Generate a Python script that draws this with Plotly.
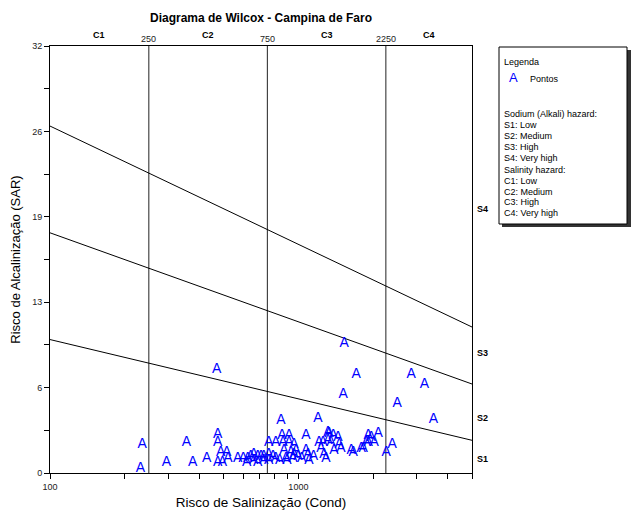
import math
import plotly.graph_objects as go

# ---------------- data ----------------
ec = [231, 235, 294, 354, 375, 427, 473, 473, 486, 514, 473, 495, 469, 570, 619,
      643, 661, 686, 706, 725, 760, 760, 760, 789, 811, 811, 850, 858, 866, 874,
      890, 915, 915, 933, 950, 977, 995, 959, 959, 1072, 1072, 1092, 1102, 1199,
      1210, 1233, 1256, 1268, 1316, 1316, 1353, 1379, 1391, 1444, 1458, 1485,
      1630, 1661, 1788, 1874, 1909, 2095, 1963, 2019, 1909, 1822, 2386, 2257,
      1527, 1707, 1513, 2848, 3214, 2500, 3494, 1328, 625, 661, 686, 725, 520,
      900, 1030, 1150, 1290, 600, 840]
sar = [0.37, 2.17, 0.82, 2.25, 0.82, 1.12, 2.92, 2.25, 1.57, 1.57, 0.82, 0.82, 7.78,
       1.12, 0.75, 1.20, 1.35, 1.20, 1.20, 1.20, 2.32, 1.35, 0.97, 1.20, 2.25, 1.12,
       3.97, 2.84, 2.32, 1.72, 1.12, 2.84, 2.25, 1.50, 1.12, 1.72, 1.20, 2.10, 1.35,
       2.84, 1.72, 1.35, 0.97, 4.12, 2.25, 1.87, 2.32, 1.35, 3.07, 2.47, 2.25, 2.84,
       1.72, 2.69, 2.10, 1.87, 1.72, 1.50, 1.87, 2.32, 2.84, 2.99, 2.69, 2.25, 2.25,
       1.87, 2.10, 1.50, 9.73, 7.41, 5.91, 7.41, 6.66, 5.24, 4.04, 2.99, 1.05, 0.97,
       0.82, 0.97, 1.05, 0.97, 1.05, 1.20, 1.05, 1.05, 0.90]

c_bounds = [250, 750, 2250]
c_labels = ["C1", "C2", "C3", "C4"]
c_label_ec = [158, 433, 1299, 3354]

s_line_ec = [100, 5000]
s_line_s1s2 = [10.0, 2.45]
s_line_s2s3 = [18.0, 6.67]
s_line_s3s4 = [26.0, 10.94]
s_labels = ["S1", "S2", "S3", "S4"]
s_label_sar = [1.05, 4.1, 9.0, 19.8]

x_tickvals = [100, 200, 300, 400, 500, 600, 700, 800, 900, 1000,
              2000, 3000, 4000, 5000]
x_ticktext = ["100", "", "", "", "", "", "", "", "", "1000", "", "", "", ""]
y_tickvals = [0, 3.2, 6.4, 9.6, 12.8, 16, 19.2, 22.4, 25.6, 28.8, 32]
y_ticktext = ["0", "", "6", "", "13", "", "19", "", "26", "", "32"]

legend_title = "Legenda"
legend_series = "Pontos"
legend_s_lines = ["Sodium (Alkali) hazard:", "S1: Low", "S2: Medium", "S3: High", "S4: Very high"]
legend_c_lines = ["Salinity hazard:", "C1: Low", "C2: Medium", "C3: High", "C4: Very high"]

FONT = "Liberation Sans, Arial, sans-serif"

# plot area in pixels (for layout placement helpers)
L, R, T, B = 50, 472, 46, 473
W, H = 638, 510


def px_x(px):
    return (px - L) / (R - L)


def px_y(py):
    return (B - py) / (B - T)


fig = go.Figure()

# vertical salinity boundaries
for cb in c_bounds:
    fig.add_trace(go.Scatter(x=[cb, cb], y=[0, 32], mode="lines",
                             line=dict(color="#222", width=1), hoverinfo="skip"))

# sodium boundaries
for ys in (s_line_s1s2, s_line_s2s3, s_line_s3s4):
    fig.add_trace(go.Scatter(x=s_line_ec, y=ys, mode="lines",
                             line=dict(color="black", width=1), hoverinfo="skip"))

# points
fig.add_trace(go.Scatter(x=ec, y=sar, mode="text", text=["A"] * len(ec),
                         textposition="middle center",
                         textfont=dict(family=FONT, size=14, color="#0000FF"),
                         name=legend_series, cliponaxis=False))

annotations = []
# top labels
for lab, v in zip(c_labels, c_label_ec):
    annotations.append(dict(x=math.log10(v), y=1, xref="x", yref="paper",
                            text=f"<b>{lab}</b>", showarrow=False, yanchor="bottom",
                            yshift=4, font=dict(family=FONT, size=9, color="black")))
for cb in c_bounds:
    annotations.append(dict(x=math.log10(cb), y=1, xref="x", yref="paper",
                            text=str(cb), showarrow=False, yanchor="bottom",
                            yshift=0, font=dict(family=FONT, size=9, color="#222")))
# right labels
for lab, v in zip(s_labels, s_label_sar):
    annotations.append(dict(x=1, y=v, xref="paper", yref="y", text=f"<b>{lab}</b>",
                            showarrow=False, xanchor="left", xshift=3,
                            font=dict(family=FONT, size=9, color="black")))

# legend box contents
annotations.append(dict(x=px_x(502), y=px_y(62), xref="paper", yref="paper",
                        text=legend_title, showarrow=False, xanchor="left",
                        yanchor="middle", font=dict(family=FONT, size=9, color="black")))
annotations.append(dict(x=px_x(513), y=px_y(78), xref="paper", yref="paper",
                        text="A", showarrow=False, xanchor="center",
                        yanchor="middle", font=dict(family=FONT, size=13, color="#0000FF")))
annotations.append(dict(x=px_x(528), y=px_y(79), xref="paper", yref="paper",
                        text=legend_series, showarrow=False, xanchor="left",
                        yanchor="middle", font=dict(family=FONT, size=9, color="black")))
for i, t in enumerate(legend_s_lines):
    annotations.append(dict(x=px_x(502), y=px_y(114 + i * 11), xref="paper", yref="paper",
                            text=t, showarrow=False, xanchor="left", yanchor="middle",
                            font=dict(family=FONT, size=9, color="black")))
for i, t in enumerate(legend_c_lines):
    annotations.append(dict(x=px_x(502), y=px_y(170 + i * 10.8), xref="paper", yref="paper",
                            text=t, showarrow=False, xanchor="left", yanchor="middle",
                            font=dict(family=FONT, size=9, color="black")))

shapes = [
    # shadow
    dict(type="rect", xref="paper", yref="paper", x0=px_x(502), x1=px_x(631),
         y0=px_y(227), y1=px_y(50), fillcolor="#333", line=dict(width=0), layer="above"),
    # box
    dict(type="rect", xref="paper", yref="paper", x0=px_x(499), x1=px_x(627),
         y0=px_y(224), y1=px_y(47), fillcolor="white", line=dict(color="black", width=1),
         layer="above"),
]

fig.update_layout(
    width=W, height=H,
    margin=dict(l=L, r=W - R, t=T, b=H - B, pad=0, autoexpand=False),
    paper_bgcolor="white", plot_bgcolor="white",
    showlegend=False,
    font=dict(family=FONT, size=9, color="black"),
    title=dict(text="<b>Diagrama de Wilcox - Campina de Faro</b>", x=261 / W,
               xanchor="center", y=1 - 18 / H, yanchor="middle",
               font=dict(family=FONT, size=12, color="black")),
    xaxis=dict(type="log", range=[2, math.log10(5000)], tickvals=x_tickvals,
               ticktext=x_ticktext, ticks="outside", ticklen=5, tickcolor="black",
               showline=True, linecolor="black", linewidth=1, mirror=True,
               showgrid=False, zeroline=False, automargin=False,
               tickfont=dict(family=FONT, size=9, color="#222"),
               title=dict(text="Risco de Salinização (Cond)", standoff=6,
                          font=dict(family=FONT, size=13.5, color="black"))),
    yaxis=dict(range=[0, 32], tickvals=y_tickvals, ticktext=y_ticktext,
               ticks="outside", ticklen=5, tickcolor="black",
               showline=True, linecolor="black", linewidth=1, mirror=True,
               showgrid=False, zeroline=False, automargin=False,
               tickfont=dict(family=FONT, size=9, color="#222"),
               title=dict(text="Risco de Alcalinização (SAR)", standoff=8,
                          font=dict(family=FONT, size=13, color="black"))),
    annotations=annotations,
    shapes=shapes,
)

fig.write_html("out.html", config={"displayModeBar": False},
               post_script="document.body.style.margin='0';document.body.style.overflow='hidden';")
